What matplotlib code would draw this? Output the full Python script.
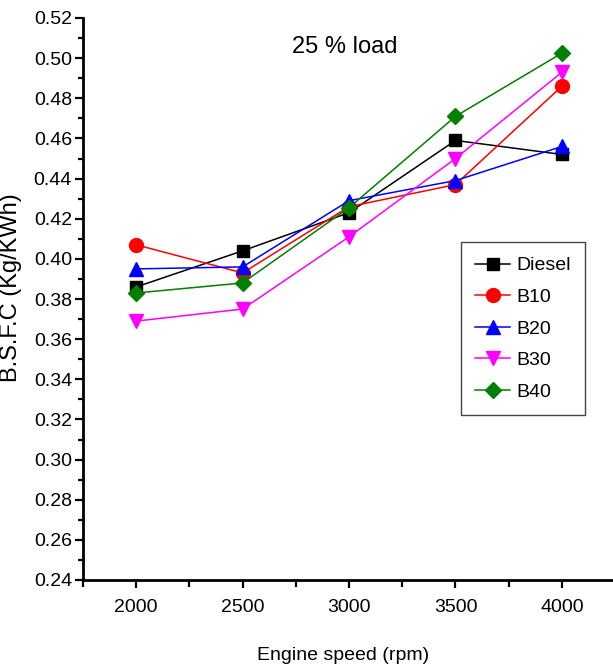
import matplotlib
matplotlib.use("Agg")
import matplotlib.pyplot as plt
from matplotlib.ticker import MultipleLocator, FormatStrFormatter

# Data
speed = [2000, 2500, 3000, 3500, 4000]
diesel = [0.386, 0.404, 0.423, 0.459, 0.452]
b10 = [0.407, 0.393, 0.426, 0.437, 0.486]
b20 = [0.395, 0.396, 0.429, 0.439, 0.456]
b30 = [0.369, 0.375, 0.411, 0.450, 0.493]
b40 = [0.383, 0.388, 0.4255, 0.471, 0.5025]

labels = ["Diesel", "B10", "B20", "B30", "B40"]
colors = ["black", "red", "blue", "#FF00FF", "#007F00"]
markers = ["s", "o", "^", "v", "D"]
sizes = [8, 10, 10, 10, 8]

font = ["Liberation Sans", "DejaVu Sans"]

fig = plt.figure(figsize=(6.13, 6.66), dpi=100)
ax = fig.add_axes([83 / 613, 86 / 666, 530 / 613, 562 / 666])

for series, lab, c, m, ms in zip([diesel, b10, b20, b30, b40], labels, colors, markers, sizes):
    ax.plot(speed, series, color=c, marker=m, markersize=ms, linewidth=1.1, label=lab)

ax.set_xlim(1750, 4240)
ax.set_ylim(0.24, 0.52)
ax.xaxis.set_major_locator(MultipleLocator(500))
ax.xaxis.set_minor_locator(MultipleLocator(250))
ax.yaxis.set_major_locator(MultipleLocator(0.02))
ax.yaxis.set_minor_locator(MultipleLocator(0.01))
ax.yaxis.set_major_formatter(FormatStrFormatter("%.2f"))

ax.spines["top"].set_visible(False)
ax.spines["right"].set_visible(False)
ax.spines["left"].set_linewidth(2)
ax.spines["bottom"].set_linewidth(2)
ax.tick_params(which="major", direction="out", length=6, width=1.6)
ax.tick_params(which="minor", direction="out", length=3.5, width=1.6)
ax.tick_params(axis="x", which="minor", length=5)
ax.tick_params(axis="x", which="major", pad=8)
ax.tick_params(axis="y", which="major", pad=2)
for t in ax.get_xticklabels() + ax.get_yticklabels():
    t.set_family(font)
    t.set_fontsize(14)

ax.set_xlabel("Engine speed (rpm)", family=font, fontsize=14)
ax.set_ylabel("B.S.F.C (Kg/KWh)", family=font, fontsize=17)
ax.xaxis.set_label_coords(0.49, -0.12)
ax.yaxis.set_label_coords(-0.115, 0.52)
ax.text(0.494, 0.948, "25 % load", transform=ax.transAxes, ha="center", va="center",
        family=font, fontsize=17)

leg = ax.legend(loc="upper left", bbox_to_anchor=(0.713, 0.601), borderaxespad=0,
                prop={"family": font, "size": 14}, handlelength=1.8,
                labelspacing=0.72, fancybox=False, framealpha=1,
                edgecolor="#444444", handletextpad=0.3, borderpad=0.75)
leg.get_frame().set_linewidth(1)

fig.savefig("out.png", dpi=100)
